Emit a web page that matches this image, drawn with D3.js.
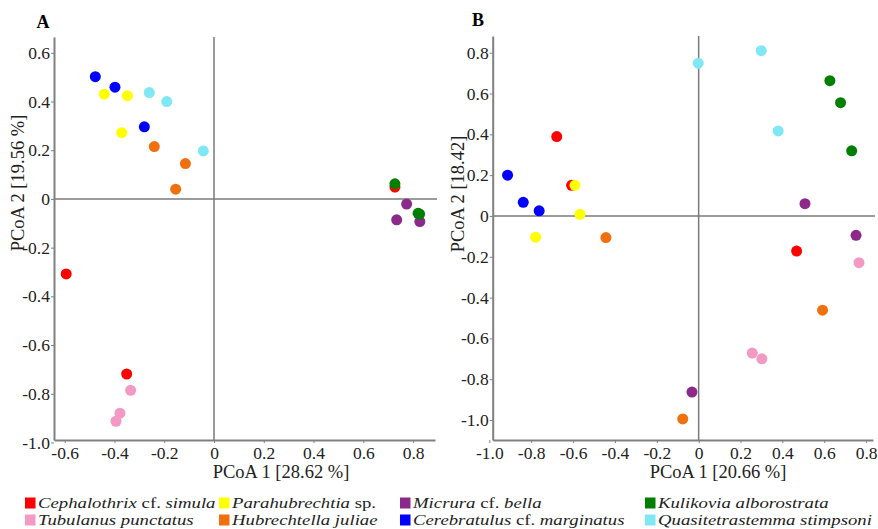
<!DOCTYPE html>
<html>
<head>
<meta charset="utf-8">
<script src="https://cdn.jsdelivr.net/npm/d3@7"></script>
<style>
  body { margin: 0; background: #fff; }
  svg text { font-family: 'Liberation Serif', 'DejaVu Serif', serif; }
  .axis path, .axis line { stroke: #808080; }
  .axis path { stroke-width: 2; }
</style>
</head>
<body>
<svg width="878" height="529"></svg>
<script>
// species in legend order (row by row, column by column)
let species = [
    'Cephalothrix cf. simula', 'Tubulanus punctatus', 'Parahubrechtia sp.', 'Hubrechtella juliae',
    'Micrura cf. bella', 'Cerebratulus cf. marginatus', 'Kulikovia alborostrata', 'Quasitetrastemma stimpsoni'
]
let colors = ['#ff0000', '#f39ac4', '#ffff00', '#f07010', '#8b2a8b', '#0000ff', '#007f00', '#80e8f4']

// [species index, PCoA 1, PCoA 2]
let pointsA = [
    [0, 0.727, 0.049], [0, -0.594, -0.308], [0, -0.351, -0.719],
    [1, -0.335, -0.786], [1, -0.378, -0.880], [1, -0.394, -0.913],
    [2, -0.441, 0.430], [2, -0.348, 0.424], [2, -0.371, 0.272],
    [3, -0.240, 0.215], [3, -0.115, 0.145], [3, -0.154, 0.040],
    [4, 0.774, -0.021], [4, 0.734, -0.086], [4, 0.827, -0.093],
    [5, -0.477, 0.502], [5, -0.398, 0.459], [5, -0.280, 0.296],
    [6, 0.727, 0.062], [6, 0.820, -0.059], [6, 0.826, -0.062],
    [7, -0.260, 0.437], [7, -0.190, 0.400], [7, -0.043, 0.197]
]
let pointsB = [
    [0, -0.678, 0.389], [0, -0.607, 0.150], [0, 0.468, -0.172],
    [1, 0.766, -0.229], [1, 0.256, -0.672], [1, 0.302, -0.700],
    [2, -0.591, 0.150], [2, -0.567, 0.008], [2, -0.779, -0.104],
    [3, -0.443, -0.106], [3, 0.592, -0.462], [3, -0.076, -0.995],
    [4, 0.508, 0.060], [4, 0.752, -0.095], [4, -0.032, -0.863],
    [5, -0.913, 0.200], [5, -0.838, 0.067], [5, -0.762, 0.025],
    [6, 0.627, 0.663], [6, 0.678, 0.555], [6, 0.731, 0.319],
    [7, -0.002, 0.749], [7, 0.299, 0.810], [7, 0.380, 0.417]
]

let ticksAX = [-0.6, -0.4, -0.2, 0, 0.2, 0.4, 0.6, 0.8]
let ticksAY = [0.6, 0.4, 0.2, 0, -0.2, -0.4, -0.6, -0.8, -1.0]
let ticksBX = [-1.0, -0.8, -0.6, -0.4, -0.2, 0, 0.2, 0.4, 0.6, 0.8]
let ticksBY = [0.8, 0.6, 0.4, 0.2, 0, -0.2, -0.4, -0.6, -0.8, -1.0]

let svg = d3.select('svg')

let fmt = d => d === 0 ? '0' : (d < 0 ? '-' : '') + Math.abs(d).toFixed(1)

let panels = [
    {letter: 'A', points: pointsA, tx: ticksAX, ty: ticksAY,
     x: d3.scaleLinear().domain([-0.643, 0.888]).range([54, 435]),
     y: d3.scaleLinear().domain([-0.99, 0.665]).range([440, 37]),
     xLabel: 'PCoA 1 [28.62 %]', yLabel: 'PCoA 2 [19.56 %]',
     letterPos: [43, 28], xLabelPos: [281, 478], yLabelPos: [18, 183]},
    {letter: 'B', points: pointsB, tx: ticksBX, ty: ticksBY,
     x: d3.scaleLinear().domain([-0.984, 0.833]).range([492.7, 873]),
     y: d3.scaleLinear().domain([-1.098, 0.882]).range([440, 36]),
     xLabel: 'PCoA 1 [20.66 %]', yLabel: 'PCoA 2 [18.42]',
     letterPos: [478, 26], xLabelPos: [718, 478], yLabelPos: [458, 194]}
]

let styleTicks = sel => sel.attr('font-family', null).attr('font-size', null)
    .selectAll('text')
    .style('font-family', "'Liberation Serif', serif")
    .style('font-size', '17.5px')
    .attr('fill', '#222')

panels.forEach(p => {
    let g = svg.append('g')
    let [x0, x1] = p.x.range()
    let [y0, y1] = p.y.range()

    // zero lines
    g.append('line')
        .attr('x1', p.x(0)).attr('x2', p.x(0))
        .attr('y1', y1).attr('y2', y0)
        .attr('stroke', '#7a7a7a').attr('stroke-width', 1.5)
    g.append('line')
        .attr('x1', x0).attr('x2', x1 + 2)
        .attr('y1', p.y(0)).attr('y2', p.y(0))
        .attr('stroke', '#7a7a7a').attr('stroke-width', 1.5)

    g.append('g')
        .attr('class', 'axis')
        .attr('transform', `translate(0,${y0})`)
        .call(d3.axisBottom(p.x).tickValues(p.tx).tickFormat(fmt)
            .tickSize(3).tickSizeOuter(0).tickPadding(4))
        .call(styleTicks)

    g.append('g')
        .attr('class', 'axis')
        .attr('transform', `translate(${x0},0)`)
        .call(d3.axisLeft(p.y).tickValues(p.ty).tickFormat(fmt)
            .tickSize(3).tickSizeOuter(0).tickPadding(1))
        .call(styleTicks)

    g.selectAll('.dot')
        .data(p.points.slice().sort((a, b) => a[0] - b[0]))
        .enter().append('circle')
        .attr('class', 'dot')
        .attr('cx', d => p.x(d[1]))
        .attr('cy', d => p.y(d[2]))
        .attr('r', 5.5)
        .attr('fill', d => colors[d[0]])

    g.append('text')
        .attr('x', p.letterPos[0]).attr('y', p.letterPos[1])
        .attr('text-anchor', 'middle')
        .style('font-weight', 'bold').style('font-size', '18px')
        .text(p.letter)

    g.append('text')
        .attr('x', p.xLabelPos[0]).attr('y', p.xLabelPos[1])
        .attr('text-anchor', 'middle')
        .style('font-size', '18.5px').attr('fill', '#222')
        .text(p.xLabel)

    g.append('text')
        .attr('transform', `translate(${p.yLabelPos[0]},${p.yLabelPos[1]}) rotate(-90)`)
        .attr('text-anchor', 'middle')
        .attr('dy', '0.35em')
        .style('font-size', '18.5px').attr('fill', '#222')
        .text(p.yLabel)
})

// legend: 4 columns x 2 rows
let legendCols = [25, 219, 400, 645]
let legendRows = [503, 520]

let legend = svg.selectAll('.legend')
    .data(species)
    .enter().append('g')
    .attr('class', 'legend')
    .attr('transform', (d, i) => `translate(${legendCols[Math.floor(i / 2)]},${legendRows[i % 2]})`)

legend.append('rect')
    .attr('x', 0).attr('y', -5.5)
    .attr('width', 10.5).attr('height', 11)
    .attr('fill', (d, i) => colors[i])

// the legend type in the figure is wide and short, so stretch it a little
legend.append('text')
    .attr('transform', 'translate(13,0) scale(1.21,1)')
    .attr('dy', '0.34em')
    .style('font-size', '15.5px')
    .attr('fill', '#222')
    .each(function(d) {
        let t = d3.select(this)
        // genus and species in italics, "cf." and "sp." upright
        d.split(' ').forEach((w, j) => {
            let upright = (w === 'cf.' || w === 'sp.')
            t.append('tspan')
                .style('font-style', upright ? 'normal' : 'italic')
                .text((j > 0 ? ' ' : '') + w)
        })
    })
</script>
</body>
</html>
